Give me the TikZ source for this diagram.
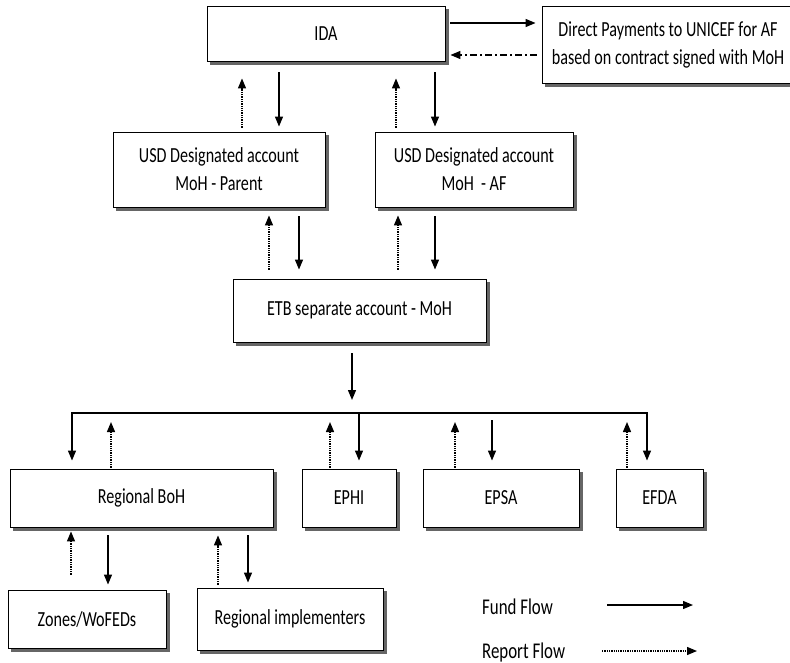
\documentclass[tikz,border=0pt]{standalone}
\usepackage{fontspec}
\setmainfont{Carlito}[FakeStretch=0.75]
\usetikzlibrary{%
    arrows.meta,
    backgrounds
}
\tikzset{fundarrow/.style = {-{Triangle[length=10pt,width=8pt]}, line width=1.3pt}}
\tikzset{reportarrow/.style = {fundarrow, densely dotted}}
\tikzset{returnarrow/.style = {fundarrow, dash pattern=on 7pt off 3pt on 2pt off 3pt}}

\begin{document}
\begin{tikzpicture}[x=1pt, y=-1pt,
    box/.style = {draw, line width=0.9pt, fill=white, inner sep=0pt, align=center,
        font=\fontsize{21.5pt}{28pt}\selectfont},
    legend/.style = {font=\fontsize{22.5pt}{28pt}\selectfont, inner sep=0pt, anchor=west}]
    \useasboundingbox (0,0) rectangle (790,663);

    \node[box, minimum width=238pt, minimum height=55pt] (ida) at (326,33.5) {IDA};
    \node[box, minimum width=252pt, minimum height=77pt] (unicef) at (668,44.5)
        {Direct Payments to UNICEF for AF\\based on contract signed with MoH};
    \node[box, minimum width=212pt, minimum height=75pt] (parent) at (219,169.5)
        {USD Designated account\\MoH - Parent};
    \node[box, minimum width=198pt, minimum height=75pt] (af) at (474,169.5)
        {USD Designated account\\MoH\ \ - AF};
    \node[box, minimum width=253pt, minimum height=63pt] (etb) at (359.5,310.5)
        {ETB separate account - MoH};
    \node[box, minimum width=263pt, minimum height=58pt] (rboh) at (141.5,498) {Regional BoH};
    \node[box, minimum width=94pt, minimum height=58pt] (ephi) at (349,498) {EPHI};
    \node[box, minimum width=156pt, minimum height=58pt] (epsa) at (501,498) {EPSA};
    \node[box, minimum width=87pt, minimum height=58pt] (efda) at (659.5,498) {EFDA};
    \node[box, minimum width=158pt, minimum height=58pt] (zones) at (87,619) {Zones/WoFEDs};
    \node[box, minimum width=186pt, minimum height=62pt] (rimpl) at (290,619) {Regional implementers};

    % box shadows
    \begin{scope}[on background layer]
        \foreach \b in {ida,unicef,parent,af,etb,rboh,ephi,epsa,efda,zones,rimpl}
            \fill[black!60] ([shift={(3.5pt,-3.5pt)}]\b.south west)
                rectangle ([shift={(3.5pt,-3.5pt)}]\b.north east);
    \end{scope}

    % IDA and UNICEF
    \draw[fundarrow, shorten <=5pt, shorten >=6pt]
        ([yshift=10.5pt]ida.east) -- ([yshift=10.5pt]ida.east -| unicef.west);
    \draw[returnarrow, shorten <=5pt, shorten >=5pt]
        ([yshift=-21.5pt]ida.east -| unicef.west) -- ([yshift=-21.5pt]ida.east);

    % IDA and designated accounts
    \draw[reportarrow, shorten <=4pt, shorten >=17pt]
        ([xshift=23pt]parent.north) -- ([xshift=23pt]parent.north |- ida.south);
    \draw[fundarrow, shorten <=11pt, shorten >=5pt]
        ([xshift=60pt]parent.north |- ida.south) -- ([xshift=60pt]parent.north);
    \draw[reportarrow, shorten <=4pt, shorten >=17pt]
        ([xshift=-78pt]af.north) -- ([xshift=-78pt]af.north |- ida.south);
    \draw[fundarrow, shorten <=11pt, shorten >=5pt]
        ([xshift=-39pt]af.north |- ida.south) -- ([xshift=-39pt]af.north);

    % designated accounts and ETB
    \draw[reportarrow, shorten <=9pt, shorten >=8pt]
        ([xshift=50pt]parent.south |- etb.north) -- ([xshift=50pt]parent.south);
    \draw[fundarrow, shorten <=9pt, shorten >=9pt]
        ([xshift=80pt]parent.south) -- ([xshift=80pt]parent.south |- etb.north);
    \draw[reportarrow, shorten <=9pt, shorten >=8pt]
        ([xshift=-76pt]af.south |- etb.north) -- ([xshift=-76pt]af.south);
    \draw[fundarrow, shorten <=9pt, shorten >=9pt]
        ([xshift=-39pt]af.south) -- ([xshift=-39pt]af.south |- etb.north);

    % ETB to the implementing bodies
    \coordinate (busL) at (72,413);
    \coordinate (busR) at (647,413);
    \draw[fundarrow, shorten <=11pt, shorten >=13pt]
        ([xshift=-7.5pt]etb.south) -- ([xshift=-7.5pt]etb.south |- busL);
    \draw[fundarrow, shorten >=8pt] (busR) -- (busL) -- (busL |- rboh.north);
    \draw[fundarrow, shorten >=8pt] (busL) -- (busR) -- (busR |- efda.north);
    \draw[fundarrow, shorten >=8pt]
        ([xshift=10pt]ephi.north |- busL) -- ([xshift=10pt]ephi.north);
    \draw[fundarrow, shorten <=7pt, shorten >=8pt]
        ([xshift=-9pt]epsa.north |- busL) -- ([xshift=-9pt]epsa.north);
    \draw[reportarrow, shorten <=1pt, shorten >=9pt]
        ([xshift=-30.5pt]rboh.north) -- ([xshift=-30.5pt]rboh.north |- busL);
    \draw[reportarrow, shorten <=1pt, shorten >=9pt]
        ([xshift=-19pt]ephi.north) -- ([xshift=-19pt]ephi.north |- busL);
    \draw[reportarrow, shorten <=1pt, shorten >=9pt]
        ([xshift=-46pt]epsa.north) -- ([xshift=-46pt]epsa.north |- busL);
    \draw[reportarrow, shorten <=1pt, shorten >=9pt]
        ([xshift=-32.5pt]efda.north) -- ([xshift=-32.5pt]efda.north |- busL);

    % regional level
    \draw[reportarrow, shorten <=15pt, shorten >=4pt]
        ([xshift=-16pt]zones.north) -- ([xshift=-16pt]zones.north |- rboh.south);
    \draw[fundarrow, shorten <=8pt, shorten >=5pt]
        ([xshift=21pt]zones.north |- rboh.south) -- ([xshift=21pt]zones.north);
    \draw[reportarrow, shorten <=3pt, shorten >=8pt]
        ([xshift=-72pt]rimpl.north) -- ([xshift=-72pt]rimpl.north |- rboh.south);
    \draw[fundarrow, shorten <=8pt, shorten >=5pt]
        ([xshift=-42pt]rimpl.north |- rboh.south) -- ([xshift=-42pt]rimpl.north);

    % legend
    \node[legend] (fundlbl) at (482,607) {Fund Flow};
    \node[legend] (reportlbl) at (482,652) {Report Flow};
    \coordinate (fundstart) at (607,605);
    \coordinate (fundend) at (693,605);
    \coordinate (reportstart) at (602,651);
    \coordinate (reportend) at (697,651);
    \draw[fundarrow] (fundstart) -- (fundend);
    \draw[reportarrow] (reportstart) -- (reportend);
\end{tikzpicture}
\end{document}
